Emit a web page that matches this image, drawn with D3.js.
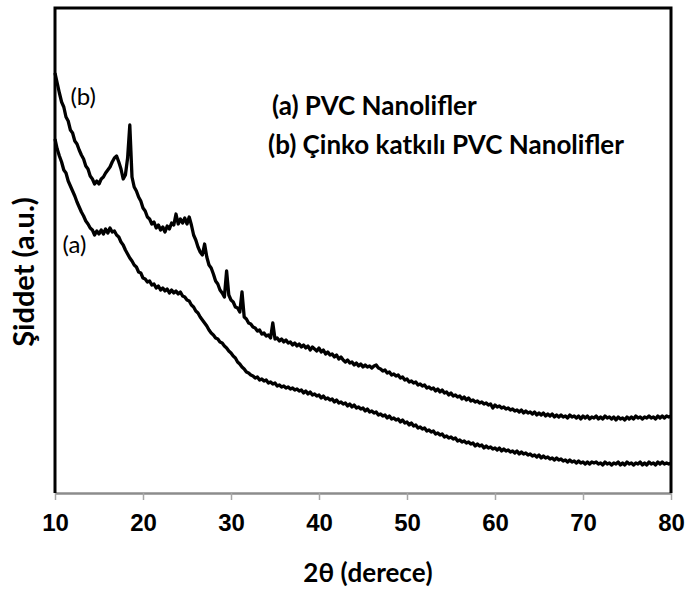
<!DOCTYPE html>
<html><head><meta charset="utf-8">
<script src="https://cdn.jsdelivr.net/npm/d3@7"></script>
<style>body{margin:0;background:#fff}svg{display:block}</style>
</head><body><svg id="c" width="686" height="591"></svg>
<script>
const angles = [
10,10.25,10.5,10.75,11,11.25,11.5,11.75,12,12.25,12.5,12.75,13,13.25,13.5,13.75,14,14.25,14.5,14.75,
15,15.25,15.5,15.75,16,16.25,16.5,16.75,17,17.25,17.5,17.75,18,18.25,18.5,18.75,19,19.25,19.5,19.75,
20,20.25,20.5,20.75,21,21.25,21.5,21.75,22,22.25,22.5,22.75,23,23.25,23.5,23.75,24,24.25,24.5,24.75,
25,25.25,25.5,25.75,26,26.25,26.5,26.75,27,27.25,27.5,27.75,28,28.25,28.5,28.75,29,29.25,29.5,29.75,
30,30.25,30.5,30.75,31,31.25,31.5,31.75,32,32.25,32.5,32.75,33,33.25,33.5,33.75,34,34.25,34.5,34.75,
35,35.25,35.5,35.75,36,36.25,36.5,36.75,37,37.25,37.5,37.75,38,38.25,38.5,38.75,39,39.25,39.5,39.75,
40,40.25,40.5,40.75,41,41.25,41.5,41.75,42,42.25,42.5,42.75,43,43.25,43.5,43.75,44,44.25,44.5,44.75,
45,45.25,45.5,45.75,46,46.25,46.5,46.75,47,47.25,47.5,47.75,48,48.25,48.5,48.75,49,49.25,49.5,49.75,
50,50.25,50.5,50.75,51,51.25,51.5,51.75,52,52.25,52.5,52.75,53,53.25,53.5,53.75,54,54.25,54.5,54.75,
55,55.25,55.5,55.75,56,56.25,56.5,56.75,57,57.25,57.5,57.75,58,58.25,58.5,58.75,59,59.25,59.5,59.75,
60,60.25,60.5,60.75,61,61.25,61.5,61.75,62,62.25,62.5,62.75,63,63.25,63.5,63.75,64,64.25,64.5,64.75,
65,65.25,65.5,65.75,66,66.25,66.5,66.75,67,67.25,67.5,67.75,68,68.25,68.5,68.75,69,69.25,69.5,69.75,
70,70.25,70.5,70.75,71,71.25,71.5,71.75,72,72.25,72.5,72.75,73,73.25,73.5,73.75,74,74.25,74.5,74.75,
75,75.25,75.5,75.75,76,76.25,76.5,76.75,77,77.25,77.5,77.75,78,78.25,78.5,78.75,79,79.25,79.5,79.75,
80];

// (a) PVC Nanolifler
const seriesA = [
354,344,337,331,323,320,312,307,302,297,291,286,281,277,272,269,265,263,258,262,
259,263,259,264,260,265,261,262,258,256,251,248,243,239,235,232,228,226,221,220,
215,214,211,212,208,209,205,207,203,205,202,204,200,203,200,202,199,201,197,196,
193,192,188,186,182,180,176,173,170,167,163,160,158,155,154,151,150,147,145,142,
140,137,135,131,129,126,124,121,120,118,117,115,116,113,114,112,113,110,111,109,
110,107,108,106,107,105,106,104,105,103,104,102,103,100,102,99,101,98,99,97,
98,95,97,94,95,93,94,91,93,90,91,89,90,87,89,86,88,85,86,84,
85,82,84,81,82,80,81,78,79,77,78,75,77,74,75,73,74,71,73,70,
71,68,70,67,68,65,66,64,65,62,63,61,62,59,60,58,59,56,57,55,
56,54,55,52,53,51,52,50,51,49,50,47,49,47,48,45,47,45,46,44,
45,43,45,42,44,42,43,41,42,40,42,39,41,39,40,38,39,37,38,36,
38,35,37,35,36,34,35,33,35,33,34,32,33,31,33,31,32,30,32,30,
31,29,31,29,31,30,31,29,30,28,31,29,30,28,30,29,31,28,30,28,
31,29,30,28,30,29,31,28,30,28,31,29,30,28,31,29,31,29,30,29,
30];

// (b) Çinko katkılı PVC Nanolifler
const seriesB = [
420,410,400,391,386,376,372,363,360,352,349,343,338,334,327,324,317,314,309,312,
309,314,316,320,323,326,331,335,337,331,324,314,318,335,368,316,306,302,296,292,
285,282,276,274,269,271,265,268,263,266,261,267,264,270,268,279,269,274,270,275,
269,276,268,258,253,246,241,238,249,236,228,225,219,212,209,203,200,196,222,198,
193,191,186,185,181,201,176,174,170,169,166,165,162,163,159,160,157,158,155,170,
154,155,152,154,151,153,150,151,148,150,147,149,146,148,145,147,143,146,144,142,
145,141,143,139,141,138,139,136,138,134,136,133,131,133,130,131,128,130,127,129,
126,128,126,127,125,127,128,125,124,122,123,120,121,118,119,117,118,115,116,113,
114,111,112,110,111,108,109,107,108,105,106,104,105,102,104,101,103,100,101,98,
100,97,98,96,97,94,96,93,95,92,93,91,92,90,91,89,90,88,89,85,
88,86,87,85,86,84,85,83,84,82,83,81,83,80,82,80,81,79,81,78,
80,78,80,77,79,77,79,76,78,76,78,76,77,75,78,76,77,75,77,74,
77,75,77,74,76,75,77,74,76,74,77,75,76,74,76,73,76,74,75,73,
76,74,76,74,77,75,76,74,76,75,77,75,76,74,77,75,77,75,77,76,
77];

const xTicks = [10,20,30,40,50,60,70,80];
const xTitle = "2θ (derece)";
const yTitle = "Şiddet (a.u.)";
const legendLines = ["(a) PVC Nanolifler", "(b) Çinko katkılı PVC Nanolifler"];
const curveNames = ["(a)", "(b)"];

const svg = d3.select("#c");
const x = d3.scaleLinear().domain([10, 80]).range([55, 671]);
const y = d3.scaleLinear().domain([0, 485]).range([493, 8]);

const line = d3.line().x(d => x(d[0])).y(d => y(d[1]));

// bottom axis (gray)
const ax = svg.append("g").attr("transform", "translate(0,493)")
  .call(d3.axisBottom(x).tickValues(xTicks).tickFormat(d3.format("d"))
    .tickSize(7).tickSizeOuter(0).tickPadding(14));
ax.select(".domain").attr("stroke", "#8c8c8c").attr("stroke-width", 2.5);
ax.selectAll(".tick line").attr("stroke", "#a6a6a6").attr("stroke-width", 1.5);
ax.selectAll(".tick text")
  .attr("font-family", "'Liberation Sans', Arial, sans-serif")
  .attr("font-weight", "bold").attr("font-size", 24).attr("fill", "#000");

// frame (left, top, right)
svg.append("path")
  .attr("d", `M${x(10)},${y(0)}V${y(485)}H${x(80)}V${y(0)}`)
  .attr("fill", "none").attr("stroke", "#000").attr("stroke-width", 3)
  .attr("stroke-linejoin", "miter");

// curves
[seriesA, seriesB].forEach(s => {
  svg.append("path")
    .datum(d3.zip(angles, s))
    .attr("d", line)
    .attr("fill", "none").attr("stroke", "#000")
    .attr("stroke-width", 3.3).attr("stroke-linejoin", "round");
});

// curve labels
const labelFont = "Lato, 'Open Sans', sans-serif";
svg.append("text").text(curveNames[1])
  .attr("x", x(11.75)).attr("y", y(388))
  .attr("font-family", labelFont).attr("font-size", 24).attr("fill", "#000");
svg.append("text").text(curveNames[0])
  .attr("x", x(10.85)).attr("y", y(240))
  .attr("font-family", labelFont).attr("font-size", 24).attr("fill", "#000");

// legend text
svg.append("text").text(legendLines[0])
  .attr("x", 272).attr("y", 115)
  .attr("font-family", labelFont).attr("font-weight", "bold").attr("font-size", 26);
svg.append("text").text(legendLines[1])
  .attr("x", 268).attr("y", 154)
  .attr("font-family", labelFont).attr("font-weight", "bold").attr("font-size", 26);

// axis titles
svg.append("text").text(xTitle)
  .attr("x", 368).attr("y", 582).attr("text-anchor", "middle")
  .attr("font-family", labelFont).attr("font-weight", "bold").attr("font-size", 26);
svg.append("text").text(yTitle)
  .attr("transform", "translate(34,272) rotate(-90)").attr("text-anchor", "middle")
  .attr("font-family", labelFont).attr("font-weight", "bold").attr("font-size", 29);
</script></body></html>
